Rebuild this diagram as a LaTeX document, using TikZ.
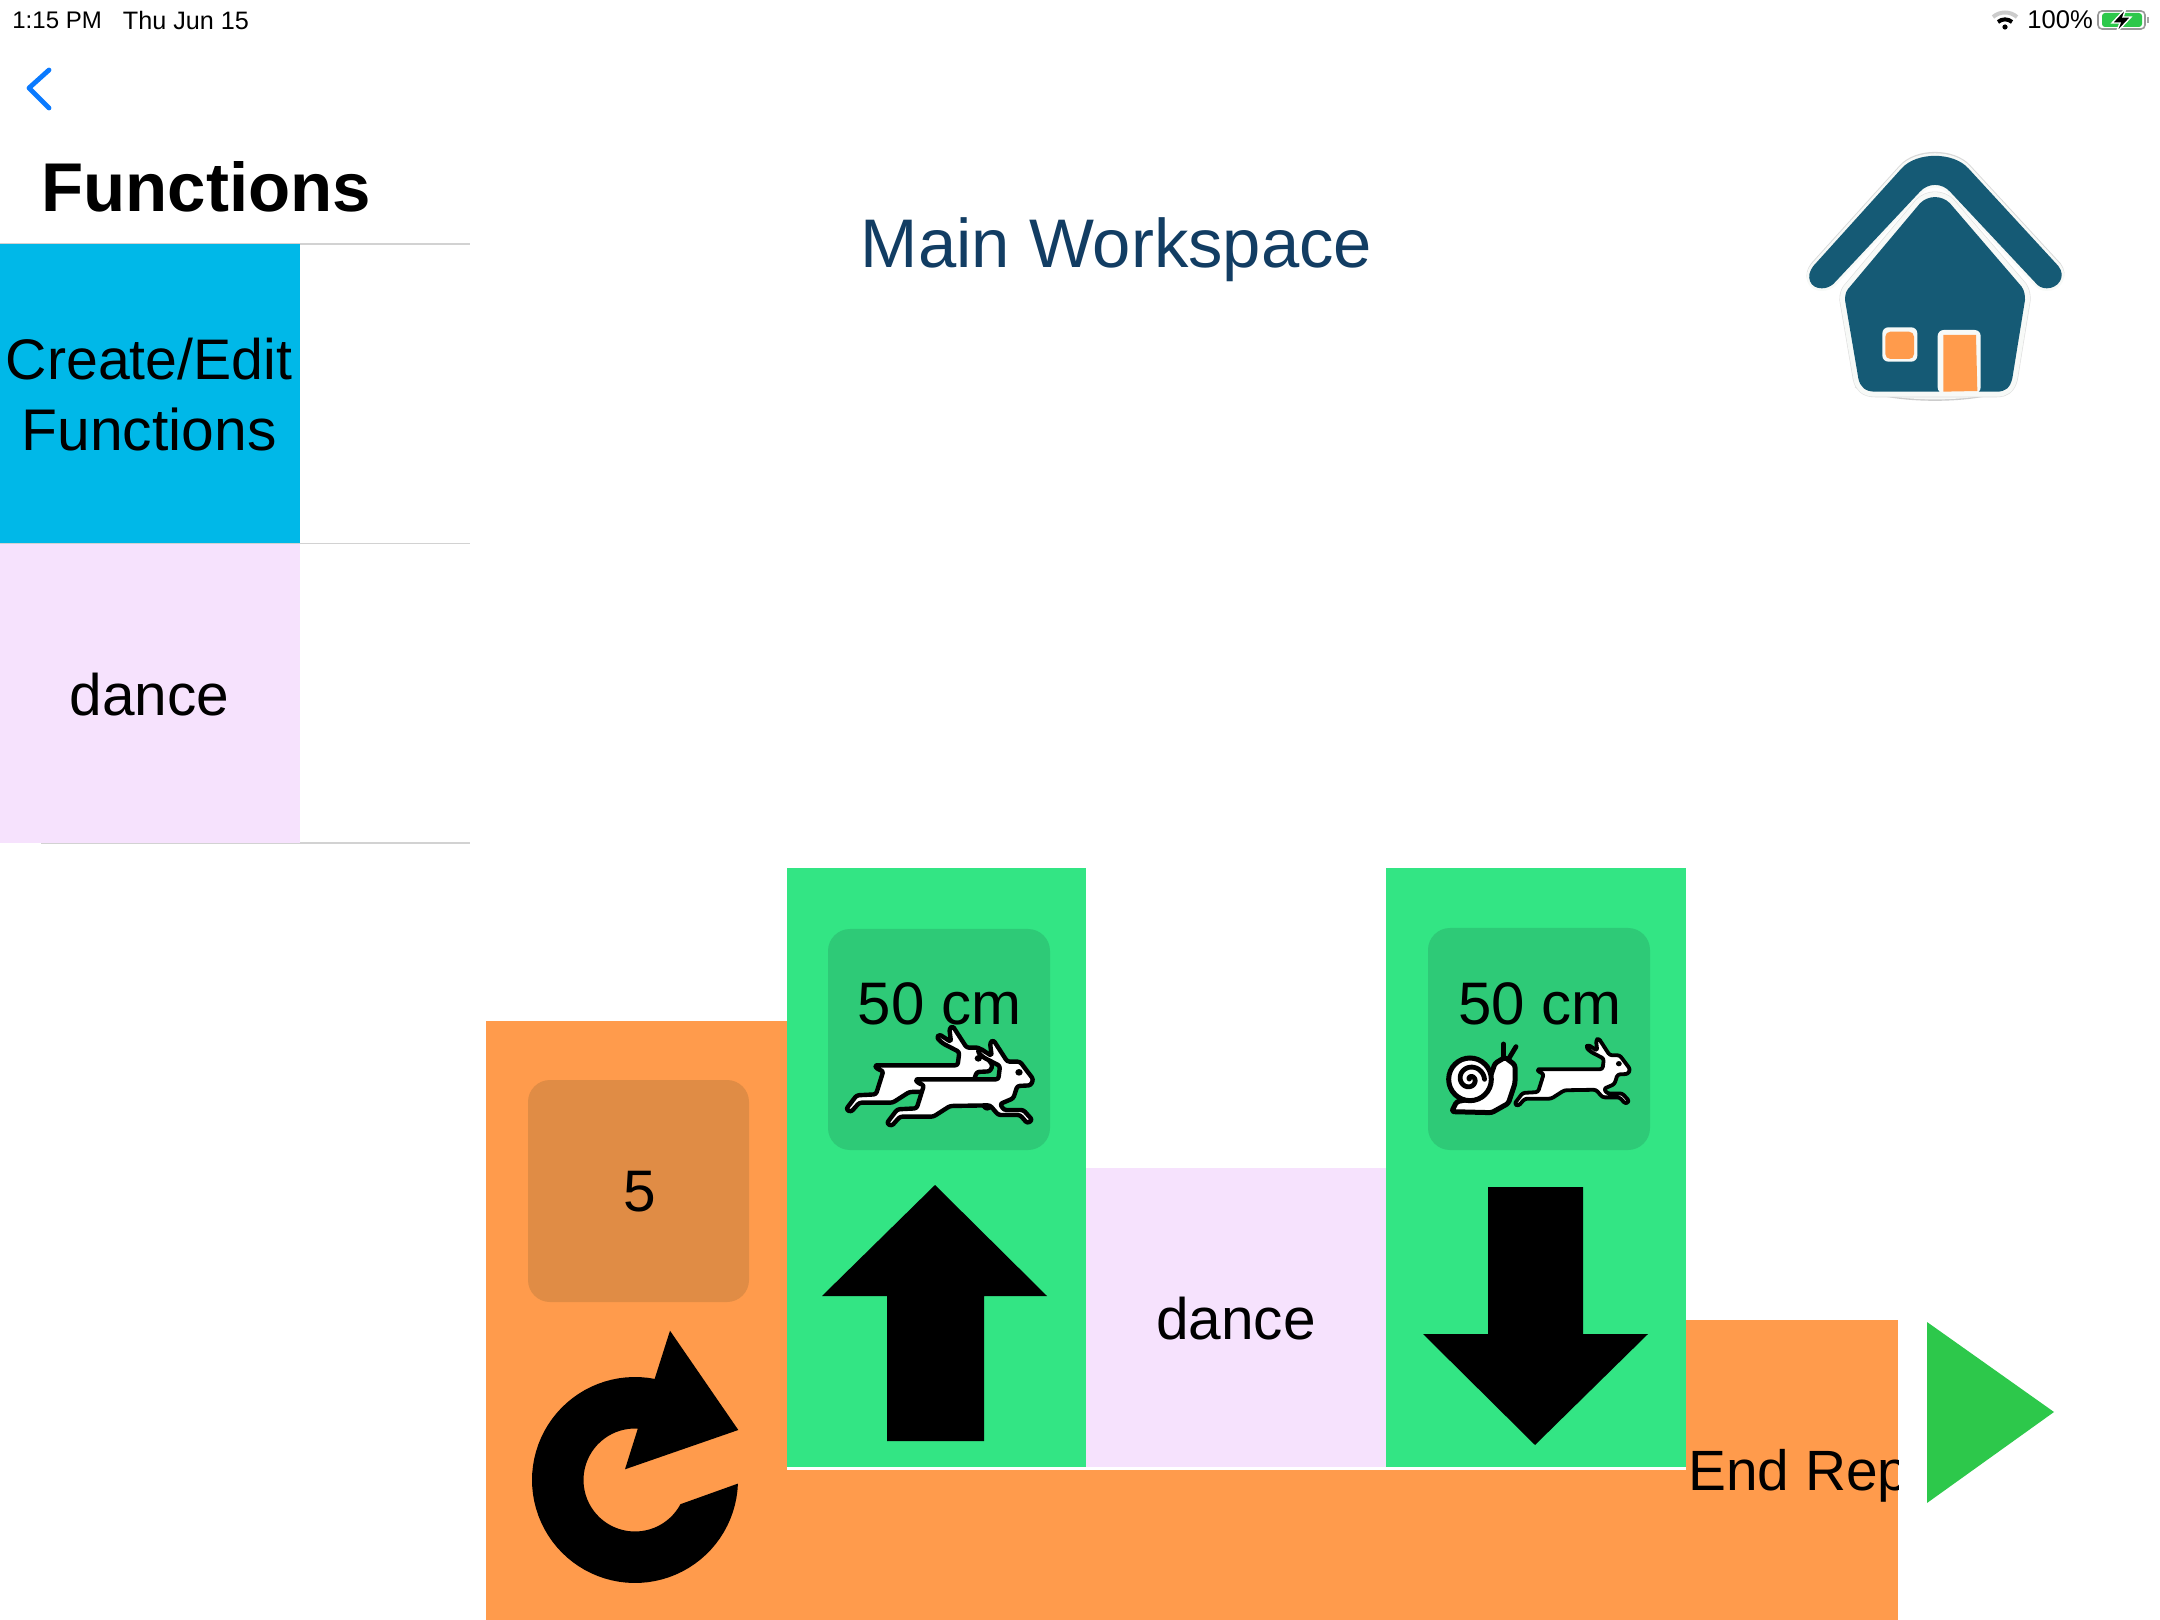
\documentclass[tikz,border=0pt]{standalone}
\usepackage{fontspec}
\setmainfont{Liberation Sans}
\definecolor{orangeblk}{HTML}{FF9B4C}
\definecolor{orangebox}{HTML}{E08C45}
\definecolor{greenblk}{HTML}{33E584}
\definecolor{greenbox}{HTML}{2ECA77}
\definecolor{blueblk}{HTML}{00B8E8}
\definecolor{lilac}{HTML}{F6E2FD}
\definecolor{titleblue}{HTML}{123D63}
\definecolor{housecol}{HTML}{155A75}
\definecolor{houseedge}{HTML}{F7F9F7}
\definecolor{playgreen}{HTML}{2DC84B}
\definecolor{backblue}{HTML}{0A7AFF}
\definecolor{sepgrey}{HTML}{D2D2D2}
\tikzset{
  lbl/.style={inner sep=0pt,font=\fontsize{29.3}{35}\selectfont,align=center,text=black},
  distlbl/.style={inner sep=0pt,font=\fontsize{30}{36}\selectfont,text=black},
  statustxt/.style={inner sep=0pt,font=\fontsize{12.6}{14}\selectfont,text=black},
  sep/.style={draw=sepgrey,line width=.7pt},
  critter/.style={draw=black,fill=white,line join=round,rounded corners=1.2pt}
}
\newcommand{\rabbitshape}[1]{%
  \draw[critter,line width=#1] (285,478) -- (535,478) -- (540,438) -- (490,412) -- (472,395) -- (480,385) -- (515,408)
    -- (510,368) -- (520,360) -- (562,425) -- (600,425) -- (640,478) -- (632,496) -- (592,498)
    -- (580,535) -- (540,552) -- (552,570) -- (610,570) -- (637,600) -- (622,610) -- (600,585)
    -- (535,585) -- (510,556) -- (390,558) -- (340,590) -- (240,590) -- (215,618) -- (200,610)
    -- (232,568) -- (290,565) -- (312,495) -- (295,490) -- cycle;
  \fill[black] (597,457) ellipse [x radius=11,y radius=10];
}
\newcommand{\roofpath}{(455,115) .. controls (500,65) and (610,65) .. (655,115) -- (925,408) .. controls (950,440) and (925,475) .. (890,475) .. controls (875,475) and (865,468) .. (858,460) -- (600,185) .. controls (575,158) and (535,158) .. (510,185) -- (250,462) .. controls (240,470) and (230,475) .. (215,475) .. controls (180,475) and (165,440) .. (190,408) -- cycle}
\newcommand{\bodypath}{(510,220) .. controls (535,195) and (575,195) .. (600,220) -- (815,470) .. controls (825,485) and (825,500) .. (825,510) -- (787,745) .. controls (780,775) and (765,785) .. (740,785) -- (375,785) .. controls (345,785) and (330,770) .. (325,745) -- (285,510) .. controls (285,490) and (290,480) .. (300,470) -- cycle}
\begin{document}
\begin{tikzpicture}[x=0.5pt,y=-0.5pt]
\useasboundingbox (0,0) rectangle (2160,1620);
\fill[white] (0,0) rectangle (2160,1620);
% status bar
\node[statustxt,anchor=west,font=\fontsize{12}{14}\selectfont] (time) at (12,20) {1:15 PM};
\node[statustxt,anchor=west] (date) at (122.5,20) {Thu Jun 15};
\node[statustxt,anchor=west,font=\fontsize{12.8}{14}\selectfont] (pct) at (2027,20) {100\%};
\draw[line width=2pt,gray!40] (1993,17) .. controls (2000,11) and (2010,11) .. (2017,17);
\draw[line width=2pt,black] (1998,22) .. controls (2002,18.5) and (2008,18.5) .. (2012,22);
\fill[black] (2005,27) circle (2.6);
\draw[gray!80,line width=.8pt,rounded corners=2pt] (2098,11) rectangle (2145,29);
\fill[playgreen,rounded corners=1.5pt] (2102,13) rectangle (2142,27);
\fill[gray!70] (2147,17) rectangle (2149,23);
\fill[black,draw=white,line width=.7pt] (2126,8) -- (2112,23) -- (2120,23) -- (2116,33) -- (2131,17) -- (2123,17) -- cycle;
% sidebar
\draw[line width=2.4pt,backblue,line cap=round,line join=round] (49,70) -- (29,88) -- (49,108);
\node[inner sep=0pt,anchor=west,font=\fontsize{34.5}{40}\selectfont\bfseries] (ftitle) at (41,187) {Functions};
\draw[sep] (0,244) -- (470,244);
\draw[sep] (0,543.5) -- (470,543.5);
\draw[sep] (41,843) -- (470,843);
\fill[blueblk] (0,244) rectangle (300,543);
\fill[lilac] (0,544) rectangle (300,843);
\node[lbl,font=\fontsize{28.6}{35.5}\selectfont] (create) at (149,395) {Create/Edit\\\fontsize{29.4}{35.5}\selectfont Functions};
\node[lbl] (dance1) at (149.5,695) {dance};
% title
\node[inner sep=0pt,text=titleblue,font=\fontsize{34.4}{40}\selectfont] (main) at (1116.5,250) {Main Workspace};
% house
\begin{scope}[shift={(1750,130)},scale=1/3]
  \begin{scope}[yshift=2]
    \draw[gray!30,line width=2.6pt,fill=gray!30] \roofpath;
  \end{scope}
  \draw[houseedge,line width=2.6pt] \roofpath;
  \fill[housecol] \roofpath;
  \fill[gray!40] (314,772) .. controls (420,826) and (690,826) .. (794,772) -- cycle;
  \fill[houseedge] (316,770) .. controls (420,821) and (690,821) .. (792,770) -- cycle;
  \path[draw=gray!25,line width=5.6pt,line join=round] \bodypath;
  \path[draw=houseedge,line width=5pt,line join=round] \bodypath;
  \fill[housecol] \bodypath;
  \fill[houseedge,rounded corners=3pt] (397,592) rectangle (502,695);
  \fill[orangeblk,rounded corners=2.5pt] (406,605) rectangle (492,687);
  \fill[houseedge,rounded corners=3pt] (563,600) rectangle (692,790);
  \fill[orangeblk] (580,615) -- (678,615) -- (682,783) -- (580,785) -- cycle;
\end{scope}
% blocks
\fill[orangeblk] (486,1021) rectangle (787,1620);
\fill[orangeblk] (787,1470) rectangle (1686,1620);
\fill[orangeblk] (1686,1320) rectangle (1898,1620);
\fill[greenblk] (787,868) rectangle (1086,1467);
\fill[lilac] (1086,1168) rectangle (1386,1467);
\fill[greenblk] (1386,868) rectangle (1686,1467);
\fill[orangebox,rounded corners=11pt] (528,1080) rectangle (749,1302);
\fill[greenbox,rounded corners=11pt] (828,929) rectangle (1050,1150);
\fill[greenbox,rounded corners=11pt] (1428,928) rectangle (1650,1150);
\node[lbl] (five) at (640,1192) {5};
\node[lbl] (dance2) at (1236,1319) {dance};
\node[distlbl] (dist1) at (939.5,1004) {50 cm};
\node[distlbl] (dist2) at (1540,1004) {50 cm};
\begin{scope}
  \clip (1686,1320) rectangle (1898,1620);
  \node[lbl,anchor=west,font=\fontsize{28.4}{35}\selectfont] (endrep) at (1688,1476) {End Rep};
\end{scope}
% arrows
\fill[black] (935,1185) -- (1047,1296) -- (984,1296) -- (984,1441) -- (887,1441) -- (887,1296) -- (822,1296) -- cycle;
\fill[black] (1535,1445) -- (1648,1334) -- (1583,1334) -- (1583,1187) -- (1488,1187) -- (1488,1334) -- (1423,1334) -- cycle;
% repeat icon
\fill[black] plot[domain=2:281,samples=70] ({635+103*cos(\x)},{1480+103*sin(\x)})
  -- (670,1330.7) -- (738.3,1430) -- (625,1469.3) -- (637.7,1429)
  -- plot[domain=273:28,samples=50] ({635+51.5*cos(\x)},{1480+51.5*sin(\x)}) -- cycle;
% play
\fill[playgreen] (1927,1322) -- (2054,1412) -- (1927,1503) -- cycle;
% rabbits on the first block
\begin{scope}[shift={(820,920)},scale=1/3]
  \begin{scope}[shift={(-122,-42)}]\rabbitshape{2.2pt}\end{scope}
  \rabbitshape{2.2pt}
\end{scope}
% snail and rabbit on the second block
\begin{scope}[shift={(1420,920)},scale=1/3]
  \begin{scope}[shift={(125,70)},scale=.79]\rabbitshape{1.9pt}\end{scope}
  \draw[black,line width=2.4pt,line cap=round] (250,372) -- (250,412);
  \draw[black,line width=2.4pt,line cap=round] (288,380) -- (265,418);
  \draw[critter,line width=2.5pt] (95,575) -- (110,545) -- (190,530) -- (225,430) -- (255,412) -- (285,435) -- (285,490) -- (265,550) -- (215,578) -- cycle;
  \draw[black,fill=white,line width=2.5pt] (150,478) circle (64);
  \draw[black,line width=2.4pt,line cap=round] plot[domain=0:520,samples=60] ({150+(2+\x*0.08)*cos(\x+200)},{478+(2+\x*0.08)*sin(\x+200)});
\end{scope}
\end{tikzpicture}
\end{document}
